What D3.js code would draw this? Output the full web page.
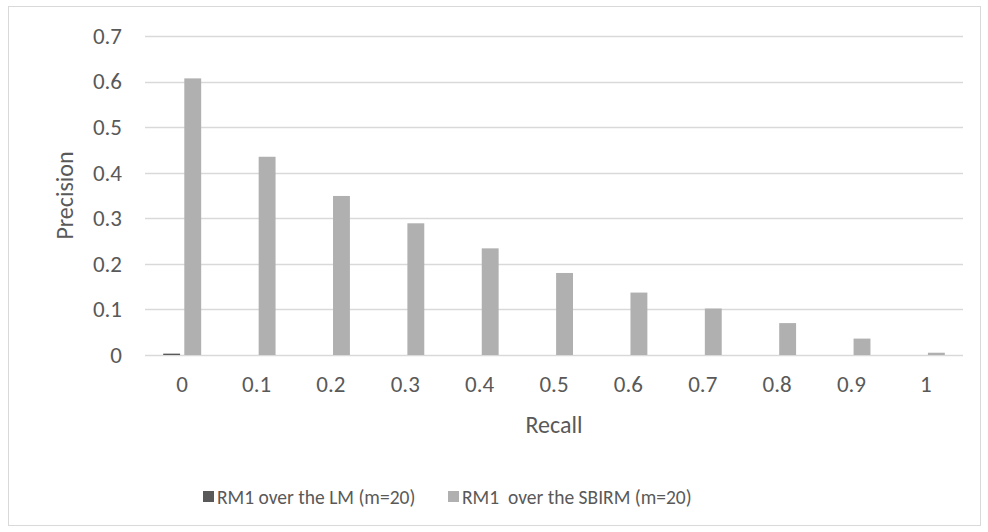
<!DOCTYPE html>
<html>
<head>
<meta charset="utf-8">
<script src="https://cdn.jsdelivr.net/npm/d3@7"></script>
<style>
  html, body { margin: 0; padding: 0; background: #fff; }
  svg { display: block; }
  text { font-family: Carlito, "Open Sans", "Noto Sans", sans-serif; fill: #595959; }
</style>
</head>
<body>
<svg id="chart" width="988" height="532"></svg>
<script>
// Recall levels on the x axis
const categories = ["0", "0.1", "0.2", "0.3", "0.4", "0.5", "0.6", "0.7", "0.8", "0.9", "1"];
// Precision of each run at every recall level
const lmValues    = [0.003, 0, 0, 0, 0, 0, 0, 0, 0, 0, 0];
const sbirmValues = [0.607, 0.435, 0.349, 0.289, 0.234, 0.180, 0.137, 0.102, 0.070, 0.036, 0.005];
const seriesNames = ["RM1 over the LM (m=20)", "RM1  over the SBIRM (m=20)"];
const seriesColors = ["#595959", "#b0b0b0"];
const yTicks = [0, 0.1, 0.2, 0.3, 0.4, 0.5, 0.6, 0.7];

const FONT = 'Carlito, "Open Sans", "Noto Sans", sans-serif';
const svg = d3.select("#chart");

// Outer chart frame
svg.append("rect")
  .attr("x", 8.5).attr("y", 6.5)
  .attr("width", 972).attr("height", 519)
  .attr("fill", "#fff").attr("stroke", "#d9d9d9").attr("stroke-width", 1);

const plot = { left: 145, right: 963, top: 36, bottom: 355 };

const x = d3.scaleBand().domain(categories).range([plot.left, plot.right]);
const y = d3.scaleLinear().domain([0, 0.7]).range([plot.bottom, plot.top]);

const rows = categories.map((c, i) => ({ cat: c, values: [lmValues[i], sbirmValues[i]] }));

// Gridlines
svg.append("g").selectAll("line").data(yTicks).join("line")
  .attr("x1", plot.left).attr("x2", plot.right)
  .attr("y1", d => Math.round(y(d)) + 0.5).attr("y2", d => Math.round(y(d)) + 0.5)
  .attr("stroke", "#d9d9d9").attr("stroke-width", d => d === 0 ? 1.6 : 1.3);

// Y axis labels
const yAxis = d3.axisLeft(y).tickValues(yTicks).tickSize(0).tickPadding(0)
  .tickFormat(d => d === 0 ? "0" : d3.format(".1f")(d));
const gy = svg.append("g").attr("transform", "translate(122,0)").call(yAxis);
gy.select(".domain").remove();
gy.selectAll("text").attr("font-size", 23).attr("fill", "#595959").style("font-family", FONT);

// X axis labels
const xAxis = d3.axisBottom(x).tickSize(0).tickPadding(0);
const gx = svg.append("g").attr("transform", "translate(0,376)").call(xAxis);
gx.select(".domain").remove();
gx.selectAll("text").attr("font-size", 23).attr("fill", "#595959").style("font-family", FONT);

// Bars: two series per recall level
const inner = d3.scaleBand().domain([0, 1]).range([-19, 19]).paddingInner(0.2);
const groups = svg.append("g").selectAll("g").data(rows).join("g")
  .attr("transform", d => `translate(${x(d.cat) + x.bandwidth() / 2},0)`);
groups.selectAll("rect").data(d => d.values.map((v, i) => ({ v, i }))).join("rect")
  .attr("x", d => inner(d.i))
  .attr("width", inner.bandwidth())
  .attr("y", d => y(d.v))
  .attr("height", d => y(0) - y(d.v))
  .attr("fill", d => seriesColors[d.i]);

// Axis titles
svg.append("text").attr("x", (plot.left + plot.right) / 2).attr("y", 433)
  .attr("text-anchor", "middle").attr("font-size", 24).text("Recall");
svg.append("text")
  .attr("transform", `translate(73,${(plot.top + plot.bottom) / 2}) rotate(-90)`)
  .attr("text-anchor", "middle").attr("font-size", 24).text("Precision");

// Legend
const legendX = [203, 448];
const lg = svg.append("g").selectAll("g").data(seriesNames).join("g")
  .attr("transform", (d, i) => `translate(${legendX[i]},497)`);
lg.append("rect").attr("x", 0).attr("y", -6).attr("width", 11).attr("height", 11)
  .attr("fill", (d, i) => seriesColors[i]);
lg.append("text").attr("x", 14).attr("y", 6.5).attr("font-size", 19.5)
  .attr("xml:space", "preserve").style("white-space", "pre").text(d => d);
</script>
</body>
</html>
